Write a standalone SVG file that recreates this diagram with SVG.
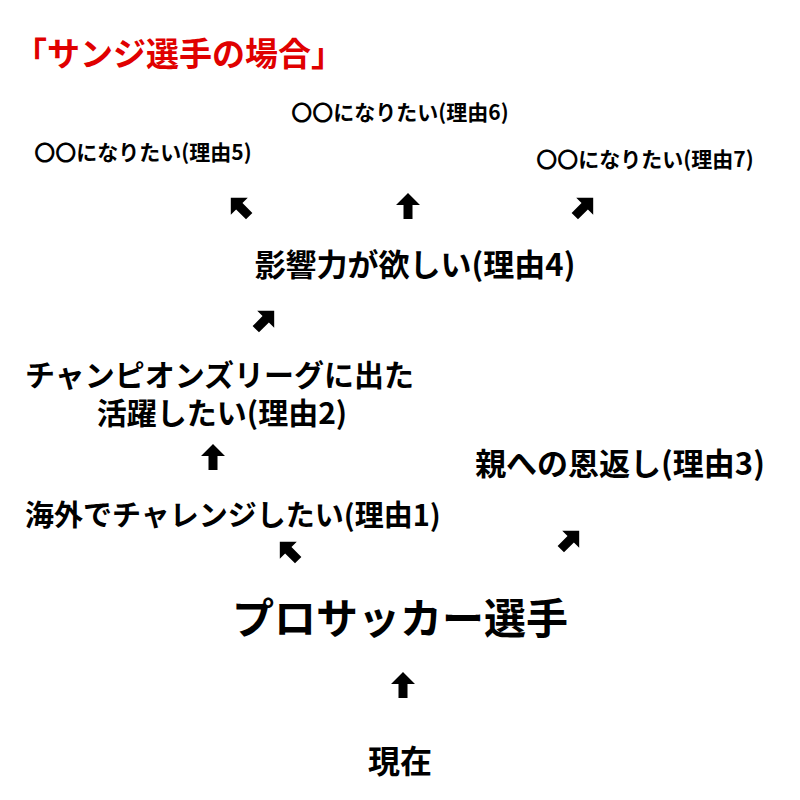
<svg xmlns="http://www.w3.org/2000/svg" width="800" height="800" viewBox="0 0 800 800">
<style>
text{font-family:"Noto Sans CJK JP","Noto Sans",sans-serif;font-weight:bold;fill:#000}
.m{text-anchor:middle}
</style>
<defs>
<path id="ar" d="M0,-13 L12,-1 L4.5,-1 L4.5,13 L-4.5,13 L-4.5,-1 L-12,-1 Z" fill="#000"/>
</defs>
<rect width="800" height="800" fill="#fff"/>
<text id="title" x="14" y="66" font-size="33" style="fill:#e00000">「サンジ選手の場合」</text>
<g id="n6"><text class="m" x="400" y="120" font-size="21">〇〇になりたい(理由6)</text></g>
<g id="n5"><text class="m" x="143" y="160" font-size="21">〇〇になりたい(理由5)</text></g>
<g id="n7"><text class="m" x="645" y="167" font-size="21">〇〇になりたい(理由7)</text></g>
<g id="n4"><text class="m" x="415" y="276" font-size="31">影響力が欲しい(理由4)</text></g>
<g id="n2"><text x="25" y="386" font-size="30">チャンピオンズリーグに出た</text><text class="m" x="222" y="424" font-size="30">活躍したい(理由2)</text></g>
<g id="n3"><text class="m" x="620" y="475" font-size="31">親への恩返し(理由3)</text></g>
<g id="n1"><text x="25" y="526" font-size="29">海外でチャレンジしたい(理由1)</text></g>
<g id="n0"><text class="m" x="400" y="634" font-size="42">プロサッカー選手</text></g>
<g id="now"><text class="m" x="400" y="773" font-size="32">現在</text></g>
<g id="connectors">
<use href="#ar" transform="translate(408,206)"/>
<use href="#ar" transform="translate(240,207) rotate(-45)"/>
<use href="#ar" transform="translate(584,207) rotate(45)"/>
<use href="#ar" transform="translate(265,320) rotate(45)"/>
<use href="#ar" transform="translate(213,457)"/>
<use href="#ar" transform="translate(289,551) rotate(-45)"/>
<use href="#ar" transform="translate(570,540) rotate(45)"/>
<use href="#ar" transform="translate(403,685)"/>
</g>
</svg>
